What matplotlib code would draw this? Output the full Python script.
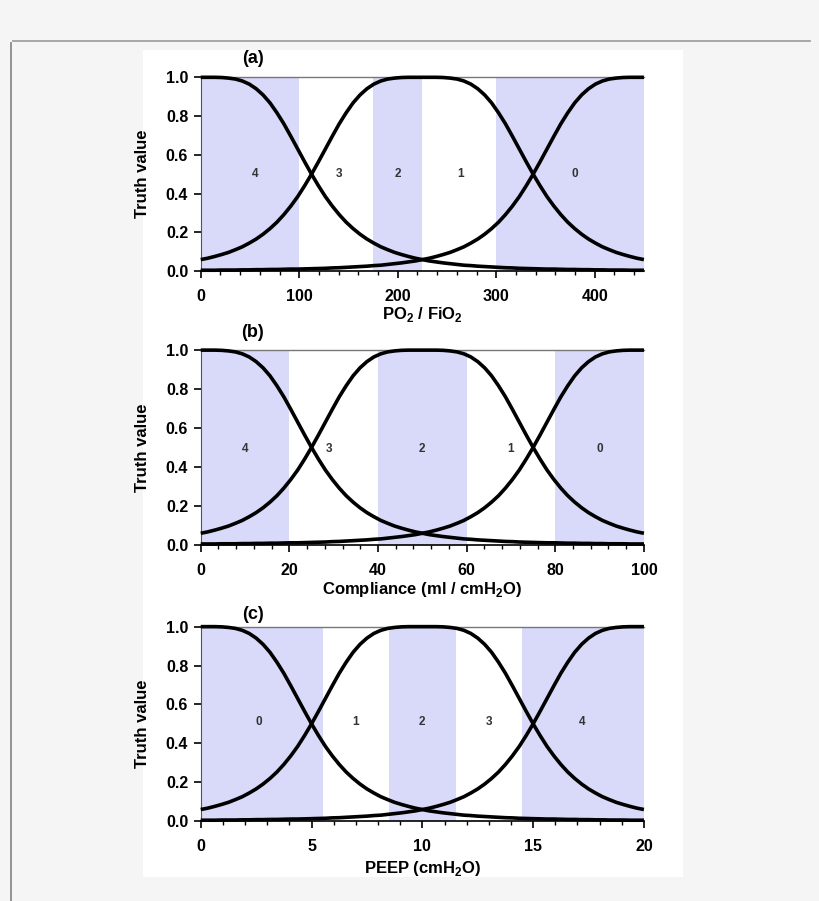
import numpy as np
import matplotlib
matplotlib.use("Agg")
import matplotlib.pyplot as plt
from matplotlib.lines import Line2D
from matplotlib.patches import Rectangle
from matplotlib.ticker import MultipleLocator, FormatStrFormatter

plt.rcParams['font.family'] = ['Liberation Sans', 'DejaVu Sans']
plt.rcParams['font.weight'] = 'bold'
plt.rcParams['mathtext.fontset'] = 'custom'
plt.rcParams['mathtext.rm'] = 'Liberation Sans:bold'
plt.rcParams['mathtext.bf'] = 'Liberation Sans:bold'

# truth values read at 65 evenly spaced points across each panel's x range
truth_low = [1.000, 1.000, 1.000, 0.999, 0.996, 0.991, 0.981, 0.965, 0.941,
             0.909, 0.868, 0.817, 0.760, 0.696, 0.630, 0.564, 0.500, 0.440,
             0.384, 0.335, 0.291, 0.252, 0.219, 0.190, 0.165, 0.144, 0.125,
             0.110, 0.096, 0.085, 0.075, 0.066, 0.059, 0.052, 0.047, 0.042,
             0.038, 0.034, 0.030, 0.028, 0.025, 0.023, 0.021, 0.019, 0.017,
             0.016, 0.014, 0.013, 0.012, 0.011, 0.010, 0.010, 0.009, 0.008,
             0.008, 0.007, 0.007, 0.006, 0.006, 0.005, 0.005, 0.005, 0.004,
             0.004, 0.004]
truth_mid = [0.059, 0.066, 0.075, 0.085, 0.096, 0.110, 0.125, 0.144, 0.165,
             0.190, 0.219, 0.252, 0.291, 0.335, 0.384, 0.440, 0.500, 0.564,
             0.630, 0.696, 0.760, 0.817, 0.868, 0.909, 0.941, 0.965, 0.981,
             0.991, 0.996, 0.999, 1.000, 1.000, 1.000, 1.000, 1.000, 0.999,
             0.996, 0.991, 0.981, 0.965, 0.941, 0.909, 0.868, 0.817, 0.760,
             0.696, 0.630, 0.564, 0.500, 0.440, 0.384, 0.335, 0.291, 0.252,
             0.219, 0.190, 0.165, 0.144, 0.125, 0.110, 0.096, 0.085, 0.075,
             0.066, 0.059]
truth_high = [0.004, 0.004, 0.004, 0.005, 0.005, 0.005, 0.006, 0.006, 0.007,
              0.007, 0.008, 0.008, 0.009, 0.010, 0.010, 0.011, 0.012, 0.013,
              0.014, 0.016, 0.017, 0.019, 0.021, 0.023, 0.025, 0.028, 0.030,
              0.034, 0.038, 0.042, 0.047, 0.052, 0.059, 0.066, 0.075, 0.085,
              0.096, 0.110, 0.125, 0.144, 0.165, 0.190, 0.219, 0.252, 0.291,
              0.335, 0.384, 0.440, 0.500, 0.564, 0.630, 0.696, 0.760, 0.817,
              0.868, 0.909, 0.941, 0.965, 0.981, 0.991, 0.996, 0.999, 1.000,
              1.000, 1.000]

# panel (a) PO2/FiO2
pf_range = (0, 450)
pf_bands = [(0, 100), (175, 225), (300, 450)]
pf_labels = ['4', '3', '2', '1', '0']
pf_label_x = [55, 140, 200, 264, 380]

# panel (b) compliance
comp_range = (0, 100)
comp_bands = [(0, 20), (40, 60), (80, 100)]
comp_labels = ['4', '3', '2', '1', '0']
comp_label_x = [10, 29, 50, 70, 90]

# panel (c) PEEP
peep_range = (0, 20)
peep_bands = [(0, 5.5), (8.5, 11.5), (14.5, 20)]
peep_labels = ['0', '1', '2', '3', '4']
peep_label_x = [2.6, 7, 10, 13, 17.2]

panels = [
    dict(rng=pf_range, bands=pf_bands, labels=pf_labels, lx=pf_label_x, ly=0.5,
         major=100, minor=20, tag='(a)', tag_y=1.095,
         xlabel=r'PO$_\mathbf{2}$ / FiO$_\mathbf{2}$', xlab_y=-0.225,
         bottom=0.6992, height=0.2150),
    dict(rng=comp_range, bands=comp_bands, labels=comp_labels, lx=comp_label_x, ly=0.49,
         major=20, minor=4, tag='(b)', tag_y=1.09,
         xlabel=r'Compliance (ml / cmH$_\mathbf{2}$O)', xlab_y=-0.23,
         bottom=0.3954, height=0.2160),
    dict(rng=peep_range, bands=peep_bands, labels=peep_labels, lx=peep_label_x, ly=0.51,
         major=5, minor=1, tag='(c)', tag_y=1.065,
         xlabel=r'PEEP (cmH$_\mathbf{2}$O)', xlab_y=-0.242,
         bottom=0.0888, height=0.2157),
]

fig = plt.figure(figsize=(8.2, 9.01), dpi=100, facecolor='#f5f5f5')

# white image area and card border
fig.patches.append(Rectangle((143 / 820, 1 - 877 / 901), 540 / 820, 827 / 901,
                             transform=fig.transFigure, facecolor='white',
                             edgecolor='none', zorder=-10))
fig.lines.append(Line2D([13 / 820, 810 / 820], [1 - 40.5 / 901] * 2,
                        transform=fig.transFigure, color='#a0a0a0', lw=1.3,
                        zorder=-10))
fig.lines.append(Line2D([11 / 820] * 2, [1 - 43 / 901, 0],
                        transform=fig.transFigure, color='#8a8a8a', lw=1.3,
                        zorder=-10))

for p in panels:
    ax = fig.add_axes([0.2448, p['bottom'], 0.5405, p['height']])
    ax.set_zorder(1)
    ax.set_facecolor('white')
    lo, hi = p['rng']
    xs = np.linspace(lo, hi, len(truth_low))
    for a, b in p['bands']:
        ax.axvspan(a, b, color='#d9d9fa', lw=0, zorder=0)
    for ys in (truth_low, truth_mid, truth_high):
        ax.plot(xs, ys, color='black', lw=2.6, clip_on=False, zorder=3,
                solid_capstyle='butt', solid_joinstyle='round')
    for lab, x in zip(p['labels'], p['lx']):
        ax.text(x, p['ly'], lab, ha='center', va='center', fontsize=8.5,
                color='#333333')
    ax.set_xlim(lo, hi)
    ax.set_ylim(0, 1)
    ax.xaxis.set_major_locator(MultipleLocator(p['major']))
    ax.xaxis.set_minor_locator(MultipleLocator(p['minor']))
    ax.yaxis.set_major_locator(MultipleLocator(0.2))
    ax.yaxis.set_major_formatter(FormatStrFormatter('%.1f'))
    ax.tick_params(axis='both', which='major', direction='out', length=5,
                   width=1.2, labelsize=11.5, pad=4)
    ax.tick_params(axis='x', which='minor', direction='out', length=3, width=1.0)
    ax.tick_params(axis='x', pad=8)
    ax.spines['right'].set_visible(False)
    ax.spines['top'].set_color('#777777')
    ax.spines['top'].set_linewidth(1.0)
    ax.spines['left'].set_color('#555555')
    ax.spines['left'].set_linewidth(0.8)
    ax.spines['bottom'].set_linewidth(1.2)
    ax.set_ylabel('Truth value', fontsize=12, fontweight='bold')
    ax.yaxis.set_label_coords(-0.115, 0.5)
    ax.set_xlabel(p['xlabel'], fontsize=12, fontweight='bold', va='center')
    ax.xaxis.set_label_coords(0.5, p['xlab_y'])
    ax.text(0.117, p['tag_y'], p['tag'], transform=ax.transAxes, ha='center',
            va='center', fontsize=13, fontweight='bold')

fig.savefig('out.png', dpi=100, facecolor=fig.get_facecolor())
